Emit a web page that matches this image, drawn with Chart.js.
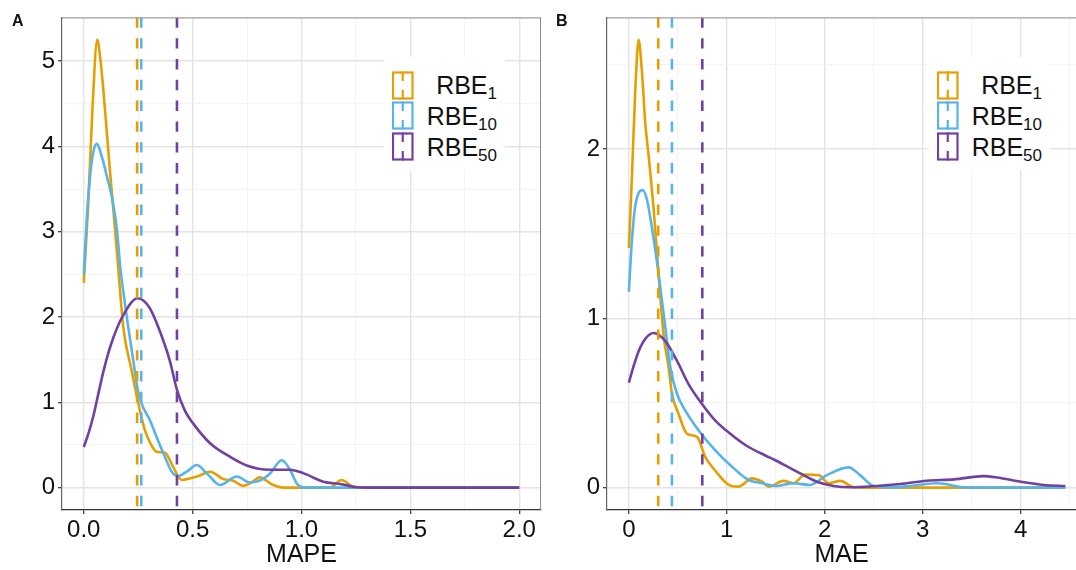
<!DOCTYPE html>
<html>
<head>
<meta charset="utf-8">
<script src="https://cdn.jsdelivr.net/npm/chart.js@4.4.0/dist/chart.umd.min.js"></script>
<style>
  html, body { margin: 0; padding: 0; background: #fff; overflow: hidden; }
  #wrap { position: relative; width: 1076px; height: 570px; font-family: "Liberation Sans", Arial, sans-serif; color: #111; }
  canvas { position: absolute; top: 0; }
  .tag { position: absolute; font-weight: bold; font-size: 16px; line-height: 16px; }
  .legend { position: absolute; background: #fff; }
  .key { position: absolute; }
  .lab { position: absolute; text-align: right; font-size: 25px; white-space: nowrap; }
  .lab sub { font-size: 17px; line-height: 0; vertical-align: -5px; }
</style>
</head>
<body>
<div id="wrap">
  <canvas id="chartA" width="546" height="570" style="left:0"></canvas>
  <canvas id="chartB" width="530" height="570" style="left:546px"></canvas>
  <div class="tag" style="left:12px; top:13px">A</div>
  <div class="tag" style="left:556px; top:13px">B</div>
</div>
<script>
// ---------- données ----------
const seriesNames = ["RBE1", "RBE10", "RBE50"];
const seriesSubs = ["1", "10", "50"];
const seriesColors = ["#E69F00", "#56B4E9", "#7240A0"];

// Panneau A : MAPE
const mapeX_rbe1 = [0, 0.02, 0.04, 0.062, 0.075, 0.09, 0.106, 0.121, 0.136, 0.159, 0.182, 0.22, 0.251, 0.281, 0.31, 0.335, 0.373, 0.411, 0.45, 0.49, 0.53, 0.58, 0.641, 0.687, 0.733, 0.77, 0.809, 0.863, 0.917, 1.13, 1.185, 1.238, 1.30, 2.0];
const mapeY_rbe1 = [2.4, 3.3, 4.45, 5.25, 5.05, 4.66, 4.16, 3.69, 3.26, 2.55, 1.87, 1.37, 0.98, 0.67, 0.5, 0.42, 0.41, 0.24, 0.09, 0.11, 0.14, 0.186, 0.10, 0.08, 0.02, 0.06, 0.12, 0.04, 0, 0, 0.09, 0.01, 0, 0];
const mapeX_rbe10 = [0, 0.015, 0.03, 0.045, 0.06, 0.083, 0.106, 0.128, 0.152, 0.167, 0.19, 0.205, 0.228, 0.246, 0.266, 0.304, 0.335, 0.373, 0.404, 0.434, 0.473, 0.519, 0.565, 0.626, 0.702, 0.764, 0.817, 0.855, 0.909, 0.947, 0.978, 1.016, 2.0];
const mapeY_rbe10 = [2.5, 3.2, 3.68, 3.95, 4.03, 3.88, 3.65, 3.42, 3.03, 2.6, 2.14, 1.87, 1.48, 1.17, 0.98, 0.79, 0.59, 0.36, 0.186, 0.136, 0.186, 0.265, 0.167, 0.03, 0.13, 0.06, 0.09, 0.165, 0.32, 0.21, 0.05, 0, 0];
const mapeX_rbe50 = [0, 0.022, 0.044, 0.066, 0.09, 0.113, 0.136, 0.163, 0.19, 0.218, 0.246, 0.275, 0.304, 0.35, 0.396, 0.427, 0.465, 0.503, 0.58, 0.672, 0.748, 0.855, 0.947, 1.008, 1.10, 1.177, 1.253, 1.30, 2.0];
const mapeY_rbe50 = [0.476, 0.64, 0.84, 1.09, 1.36, 1.58, 1.76, 1.93, 2.06, 2.17, 2.22, 2.19, 2.10, 1.83, 1.48, 1.155, 0.90, 0.75, 0.52, 0.36, 0.26, 0.21, 0.21, 0.17, 0.07, 0.043, 0.005, 0, 0];
const mapeMeans = [0.245, 0.264, 0.428];

// Panneau B : MAE
const maeX_rbe1 = [0, 0.033, 0.066, 0.10, 0.135, 0.168, 0.202, 0.253, 0.304, 0.355, 0.406, 0.441, 0.508, 0.594, 0.696, 0.781, 0.883, 1.02, 1.12, 1.258, 1.36, 1.427, 1.58, 1.68, 1.80, 1.94, 2.04, 2.16, 2.295, 2.4, 4.456];
const maeY_rbe1 = [1.415, 1.86, 2.35, 2.645, 2.445, 2.15, 1.96, 1.645, 1.26, 0.90, 0.71, 0.553, 0.435, 0.318, 0.30, 0.18, 0.10, 0.016, 0.006, 0.055, 0.035, 0.006, 0.04, 0.026, 0.078, 0.074, 0.026, 0.04, 0.002, 0, 0];
const maeX_rbe10 = [0, 0.03, 0.06, 0.1, 0.141, 0.185, 0.237, 0.288, 0.373, 0.424, 0.492, 0.577, 0.713, 0.883, 1.054, 1.223, 1.36, 1.513, 1.68, 1.85, 2.02, 2.244, 2.36, 2.50, 2.67, 2.87, 3.15, 3.28, 3.42, 3.6, 4.456];
const maeY_rbe10 = [1.157, 1.45, 1.64, 1.74, 1.757, 1.70, 1.53, 1.33, 0.943, 0.708, 0.553, 0.455, 0.338, 0.22, 0.123, 0.045, 0.026, 0.01, 0.026, 0.016, 0.074, 0.12, 0.074, 0.01, 0.002, 0.01, 0.026, 0.016, 0.002, 0, 0];
const maeX_rbe50 = [0, 0.05, 0.10, 0.17, 0.253, 0.373, 0.492, 0.611, 0.747, 0.883, 1.054, 1.223, 1.394, 1.496, 1.75, 1.92, 2.09, 2.26, 2.53, 2.77, 3.04, 3.32, 3.62, 3.76, 4.0, 4.235, 4.456];
const maeY_rbe50 = [0.62, 0.72, 0.806, 0.88, 0.913, 0.865, 0.748, 0.61, 0.494, 0.396, 0.31, 0.24, 0.19, 0.162, 0.084, 0.035, 0.01, 0.002, 0.01, 0.022, 0.041, 0.049, 0.068, 0.06, 0.035, 0.016, 0.01];
const maeMeans = [0.30, 0.44, 0.75];

// ---------- helpers ----------
function zip(xs, ys) {
    return xs.map((x, i) => ({ x: x, y: ys[i] }));
}
function near(v, step) {
    return Math.abs(v / step - Math.round(v / step)) < 1e-6;
}

// bordure haute / droite du panneau (theme_bw)
const panelBorder = {
    id: 'panelBorder',
    afterDraw(chart, args, opts) {
        const { ctx, chartArea: a } = chart;
        ctx.save();
        ctx.strokeStyle = '#8a8a8a';
        ctx.lineWidth = 1;
        ctx.beginPath();
        ctx.moveTo(a.left, a.top + 0.5);
        ctx.lineTo(a.right, a.top + 0.5);
        if (opts.right) {
            ctx.moveTo(a.right - 0.5, a.top);
            ctx.lineTo(a.right - 0.5, a.bottom);
        }
        ctx.stroke();
        ctx.restore();
    }
};

function makePanel(id, p) {
    const datasets = [];
    // Chart.js dessine le premier dataset au-dessus : pointillés d'abord
    p.means.forEach((m, i) => {
        datasets.push({
            data: [{ x: m, y: p.yMax }, { x: m, y: p.yMin }],
            borderColor: seriesColors[i],
            borderWidth: 2.6,
            borderDash: [10.4, 10.4],
            pointRadius: 0
        });
    });
    // puis les densités, RBE50 au-dessus, RBE1 en dessous
    [2, 1, 0].forEach((i) => {
        const c = p.curves[i];
        datasets.push({
            data: zip(c[0], c[1]),
            borderColor: seriesColors[i],
            borderWidth: 2.6,
            pointRadius: 0,
            fill: false,
            cubicInterpolationMode: 'monotone'
        });
    });

    const gridColor = (major, minor) => (ctx) => {
        if (!ctx.tick) return 'rgba(0,0,0,0)';
        const v = ctx.tick.value;
        if (near(v, major)) return '#e4e4e4';
        if (near(v, minor)) return '#f1f1f1';
        return 'rgba(0,0,0,0)';
    };
    const gridWidth = (major) => (ctx) => (ctx.tick && near(ctx.tick.value, major)) ? 1.4 : 0.8;
    const tickColor = (major) => (ctx) => (ctx.tick && near(ctx.tick.value, major)) ? '#333' : 'rgba(0,0,0,0)';

    return new Chart(document.getElementById(id), {
        type: 'line',
        data: { datasets: datasets },
        plugins: [panelBorder],
        options: {
            responsive: false,
            animation: false,
            layout: { padding: { top: 13, right: p.padRight, left: 0, bottom: 0 } },
            plugins: {
                legend: { display: false },
                tooltip: { enabled: false },
                panelBorder: { right: p.borderRight }
            },
            scales: {
                x: {
                    type: 'linear',
                    min: p.xMin,
                    max: p.xMax,
                    afterFit: (s) => { s.height = 60; },
                    border: { display: true, color: '#333', width: 1.2 },
                    grid: {
                        color: gridColor(p.xMajor, p.xMajor / 2),
                        lineWidth: gridWidth(p.xMajor),
                        tickColor: tickColor(p.xMajor),
                        tickLength: 4,
                        tickWidth: 1.2
                    },
                    ticks: {
                        stepSize: p.xMajor / 2,
                        includeBounds: false,
                        autoSkip: false,
                        maxRotation: 0,
                        padding: 2,
                        color: '#111',
                        font: { family: '"Liberation Sans", Arial, sans-serif', size: 24 },
                        callback: (v) => near(v, p.xMajor) ? p.xFmt(v) : ''
                    },
                    title: {
                        display: true,
                        text: p.xTitle,
                        color: '#111',
                        padding: { top: 0, bottom: 0 },
                        font: { family: '"Liberation Sans", Arial, sans-serif', size: 25 }
                    }
                },
                y: {
                    type: 'linear',
                    min: p.yMin,
                    max: p.yMax,
                    afterFit: (s) => { s.width = p.yWidth; },
                    border: { display: true, color: '#666', width: 1.2 },
                    grid: {
                        color: gridColor(1, 0.5),
                        lineWidth: gridWidth(1),
                        tickColor: tickColor(1),
                        tickLength: 4,
                        tickWidth: 1.2
                    },
                    ticks: {
                        stepSize: 0.5,
                        includeBounds: false,
                        autoSkip: false,
                        padding: 3,
                        color: '#111',
                        font: { family: '"Liberation Sans", Arial, sans-serif', size: 24 },
                        callback: (v) => near(v, 1) ? String(Math.round(v)) : ''
                    }
                }
            }
        }
    });
}

// légende intégrée (HTML, avec indices)
function makeLegend(left, top) {
    const wrap = document.getElementById('wrap');
    const bg = document.createElement('div');
    bg.className = 'legend';
    bg.style.cssText = `left:${left}px; top:${top}px; width:121px; height:113px;`;
    wrap.appendChild(bg);
    seriesNames.forEach((name, i) => {
        const rowTop = top + 15 + i * 30.8;
        const key = document.createElementNS('http://www.w3.org/2000/svg', 'svg');
        key.setAttribute('class', 'key');
        key.setAttribute('width', '22');
        key.setAttribute('height', '30');
        key.style.left = (left + 8) + 'px';
        key.style.top = (rowTop - 1.5) + 'px';
        key.innerHTML =
            `<rect x="1" y="1.5" width="19.5" height="26" fill="none" stroke="${seriesColors[i]}" stroke-width="2.2"/>` +
            `<line x1="10.75" y1="0.5" x2="10.75" y2="28.5" stroke="${seriesColors[i]}" stroke-width="2.2" stroke-dasharray="9.5 9"/>`;
        wrap.appendChild(key);
        const lab = document.createElement('div');
        lab.className = 'lab';
        lab.style.cssText = `left:${left + 30}px; width:83px; top:${rowTop}px; height:27px; line-height:27px;`;
        lab.innerHTML = `RBE<sub>${seriesSubs[i]}</sub>`;
        wrap.appendChild(lab);
    });
}

makePanel('chartA', {
    curves: [[mapeX_rbe1, mapeY_rbe1], [mapeX_rbe10, mapeY_rbe10], [mapeX_rbe50, mapeY_rbe50]],
    means: mapeMeans,
    xMin: -0.1, xMax: 2.1, xMajor: 0.5, xTitle: 'MAPE',
    xFmt: (v) => v.toFixed(1),
    yMin: -0.2625, yMax: 5.5125, yWidth: 62,
    padRight: 5, borderRight: true
});
makePanel('chartB', {
    curves: [[maeX_rbe1, maeY_rbe1], [maeX_rbe10, maeY_rbe10], [maeX_rbe50, maeY_rbe50]],
    means: maeMeans,
    xMin: -0.223, xMax: 4.565, xMajor: 1, xTitle: 'MAE',
    xFmt: (v) => String(Math.round(v)),
    yMin: -0.132, yMax: 2.777, yWidth: 61,
    padRight: 0, borderRight: false
});
makeLegend(384, 57);
makeLegend(929, 57);
</script>
</body>
</html>
